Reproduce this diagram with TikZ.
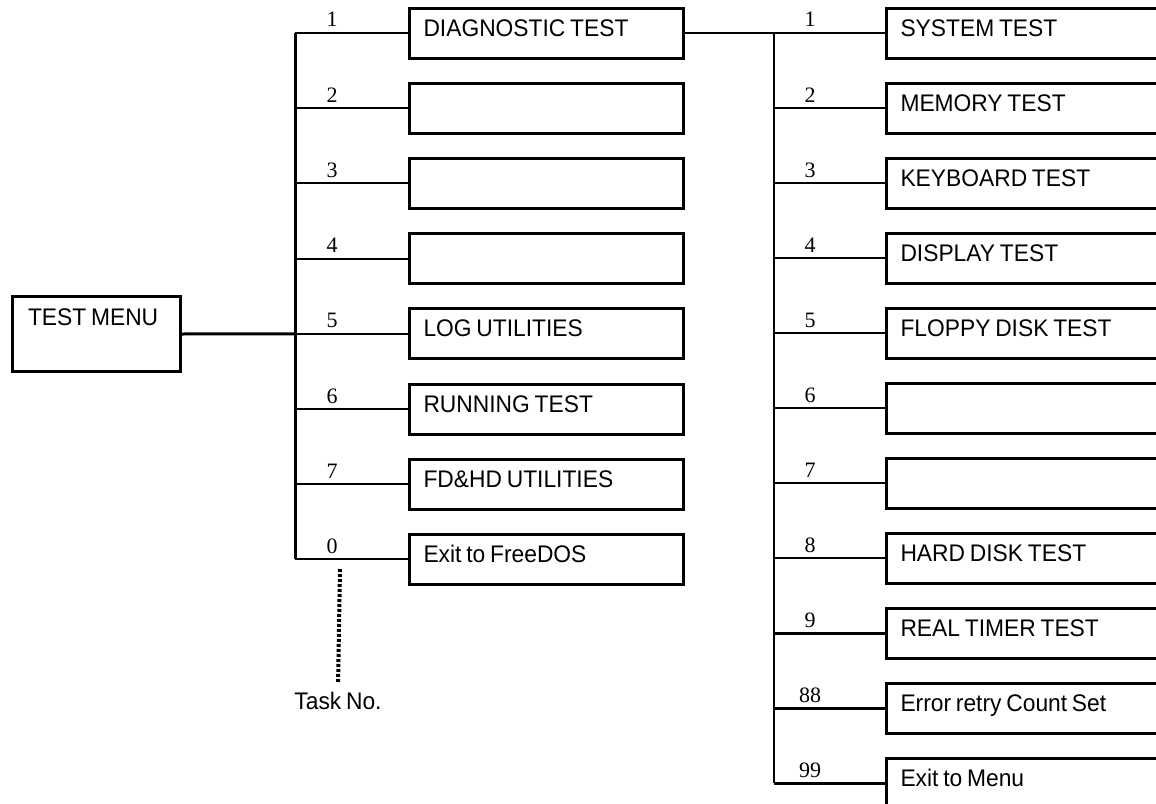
\documentclass[tikz,border=0pt]{standalone}
\usepackage{fontspec}
\setmainfont[FakeStretch=0.95]{Liberation Sans}
\newfontfamily\numfont{Liberation Serif}
\usetikzlibrary{math}

\begin{document}
\begin{tikzpicture}[x=1pt,y=-1pt,
  txt/.style={font=\fontsize{24}{24}\selectfont,execute at begin node={\spaceskip=0.2em\relax}},
  box/.style={txt,draw,line width=3pt,anchor=west,inner xsep=14pt,inner ysep=0pt,
    minimum height=50pt,text height=18pt,text depth=12pt,align=left},
  lbox/.style={box,text width=246pt},
  rbox/.style={box,text width=300pt},
  num/.style={anchor=base,inner sep=0pt,font=\numfont\fontsize{22}{22}\selectfont},
  trunk/.style={line width=3pt},
  taskline/.style={line width=4pt,dash pattern=on 3pt off 2pt}]
\tikzmath{
\P=75.2;
\Q=75;
}
\useasboundingbox (0,0) rectangle (1156,803);
\clip (0,0) rectangle (1156,803);

% main menu
\node[txt,draw,line width=3pt,minimum width=168pt,minimum height=75pt,inner xsep=16pt,
  text width=136pt,text height=18pt,text depth=35pt,align=left] (menu) at (96,334) {TEST MENU};

% first level
\foreach \num/\txt [count=\i from 0, evaluate=\i as \y using 33+\P*\i] in
  {1/DIAGNOSTIC TEST,2/{},3/{},4/{},5/LOG UTILITIES,6/RUNNING TEST,7/FD\&HD UTILITIES,0/Exit to FreeDOS}{
  \coordinate (la\i) at (295,\y);
  \node[lbox] (L\i) at (408,\y) {\txt};
  \node[num] (ln\i) at (332,\y-6) {\num};
  \draw[line width=2pt] (la\i) -- (L\i.west);
}
\draw[trunk] (la0) -- (la7);
\draw[trunk] (menu.east) -- (la4);

% second level
\foreach \num/\txt [count=\i from 0, evaluate=\i as \y using 33+\Q*\i,
  evaluate=\i as \lw using {\i>7 ? 3 : 2}] in
  {1/SYSTEM TEST,2/MEMORY TEST,3/KEYBOARD TEST,4/DISPLAY TEST,5/FLOPPY DISK TEST,6/{},7/{},8/HARD DISK TEST,9/REAL TIMER TEST,88/Error retry Count Set,99/Exit to Menu}{
  \coordinate (ra\i) at (774,\y);
  \node[rbox] (R\i) at (885,\y) {\txt};
  \node[num] (rn\i) at (810,\y-6) {\num};
  \draw[line width=\lw pt] (ra\i) -- (R\i.west);
}
\draw[line width=2.5pt] (ra0) -- (ra10);
\draw[line width=2pt] (L0.east) -- (ra0);

% task number
\coordinate (dt) at (340,569);
\node[txt] (task) at (338,701) {Task No.};
\draw[taskline,shorten >=6pt] (dt) -- (task.north);

\end{tikzpicture}
\end{document}
